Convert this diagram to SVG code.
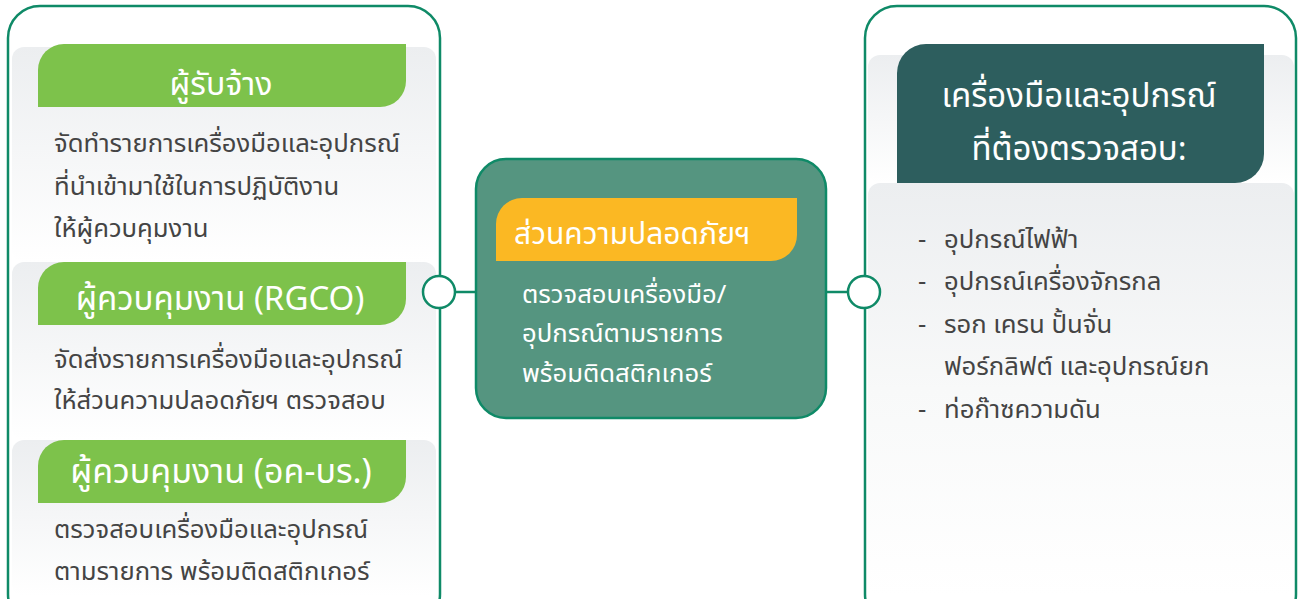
<svg xmlns="http://www.w3.org/2000/svg" width="1300" height="599" viewBox="0 0 1300 599">
<defs>
<linearGradient id="band" x1="0" y1="0" x2="0" y2="1">
<stop offset="0" stop-color="#eceef0"/>
<stop offset="1" stop-color="#ffffff"/>
</linearGradient>
<linearGradient id="bandR" x1="0" y1="0" x2="0" y2="1">
<stop offset="0" stop-color="#eceef0"/>
<stop offset="0.5" stop-color="#f8f9f9"/>
<stop offset="1" stop-color="#ffffff"/>
</linearGradient>
<style>
.panel{fill:#ffffff;stroke:#0f8a67;stroke-width:2.5}
.hdr{font-family:"Noto Sans Thai","Noto Sans","DejaVu Sans",sans-serif;font-size:32px;fill:#ffffff;text-anchor:middle}
.body{font-family:"Noto Sans Thai","Noto Sans","DejaVu Sans",sans-serif;font-size:25.7px;fill:#444444}
.wbody{font-family:"Noto Sans Thai","Noto Sans","DejaVu Sans",sans-serif;font-size:25.7px;fill:#ffffff}
.green{fill:#7dc24b}
.conn{stroke:#0f8a67;stroke-width:2.5;fill:none}
.dot{fill:#ffffff;stroke:#0f8a67;stroke-width:2.5}
</style>
</defs>
<rect width="1300" height="599" fill="#ffffff"/>

<g id="left-panel">
<rect class="panel" x="8" y="6" width="432" height="620" rx="32"/>
<rect x="12" y="47" width="424" height="215" rx="12" fill="url(#band)"/>
<rect x="12" y="262" width="424" height="178" rx="12" fill="url(#band)"/>
<rect x="12" y="440" width="424" height="156" rx="12" fill="url(#band)"/>
</g>

<g id="node-contractor">
<path class="green" d="M38 107 V70 A26 26 0 0 1 64 44 H406 V81 A26 26 0 0 1 380 107 Z"/>
<text class="hdr" x="221" y="95">ผู้รับจ้าง</text>
<text class="body" x="54" y="152">จัดทำรายการเครื่องมือและอุปกรณ์</text>
<text class="body" x="54" y="195">ที่นำเข้ามาใช้ในการปฏิบัติงาน</text>
<text class="body" x="54" y="237">ให้ผู้ควบคุมงาน</text>
</g>

<g id="node-rgco">
<path class="green" d="M38 325 V288 A26 26 0 0 1 64 262 H406 V299 A26 26 0 0 1 380 325 Z"/>
<text class="hdr" x="220" y="310" style="font-size:33px">ผู้ควบคุมงาน (RGCO)</text>
<text class="body" x="54" y="368">จัดส่งรายการเครื่องมือและอุปกรณ์</text>
<text class="body" x="54" y="409">ให้ส่วนความปลอดภัยฯ ตรวจสอบ</text>
</g>

<g id="node-supervisor">
<path class="green" d="M38 503 V466 A26 26 0 0 1 64 440 H406 V477 A26 26 0 0 1 380 503 Z"/>
<text class="hdr" x="221" y="483" style="font-size:34px">ผู้ควบคุมงาน (อค-บร.)</text>
<text class="body" x="54" y="538">ตรวจสอบเครื่องมือและอุปกรณ์</text>
<text class="body" x="54" y="580">ตามรายการ พร้อมติดสติกเกอร์</text>
</g>

<g id="node-safety">
<rect x="476" y="159" width="350" height="259" rx="30" fill="#559580" stroke="#0f8a67" stroke-width="2.5"/>
<path d="M496 261 V224 A26 26 0 0 1 522 198 H797 V235 A26 26 0 0 1 771 261 Z" fill="#fbb823"/>
<text class="hdr" x="514" y="244" style="text-anchor:start;font-size:30px">ส่วนความปลอดภัยฯ</text>
<text class="wbody" x="522" y="303">ตรวจสอบเครื่องมือ/</text>
<text class="wbody" x="522" y="342">อุปกรณ์ตามรายการ</text>
<text class="wbody" x="522" y="382">พร้อมติดสติกเกอร์</text>
</g>

<g id="right-panel">
<rect class="panel" x="865" y="6" width="431" height="620" rx="32"/>
<rect x="868" y="55" width="426" height="128" rx="12" fill="url(#band)"/>
<rect x="868" y="183" width="426" height="413" rx="12" fill="url(#bandR)"/>
</g>

<g id="node-equipment">
<path d="M897 183 V73 A29 29 0 0 1 926 44 H1264 V154 A29 29 0 0 1 1235 183 Z" fill="#2d5e5e"/>
<text class="hdr" x="1079" y="107" style="font-size:33px">เครื่องมือและอุปกรณ์</text>
<text class="hdr" x="1079" y="160" style="font-size:33px">ที่ต้องตรวจสอบ:</text>
<text class="body" x="918" y="248">-</text>
<text class="body" x="944" y="248">อุปกรณ์ไฟฟ้า</text>
<text class="body" x="918" y="290">-</text>
<text class="body" x="944" y="290">อุปกรณ์เครื่องจักรกล</text>
<text class="body" x="918" y="333">-</text>
<text class="body" x="944" y="333">รอก เครน ปั้นจั่น</text>
<text class="body" x="944" y="375">ฟอร์กลิฟต์ และอุปกรณ์ยก</text>
<text class="body" x="918" y="418">-</text>
<text class="body" x="944" y="418">ท่อก๊าซความดัน</text>
</g>

<g id="connectors">
<line class="conn" x1="455" y1="292" x2="476" y2="292"/>
<line class="conn" x1="826" y1="292" x2="848" y2="292"/>
<circle class="dot" cx="439" cy="292" r="16"/>
<circle class="dot" cx="864" cy="292" r="16"/>
</g>
</svg>
